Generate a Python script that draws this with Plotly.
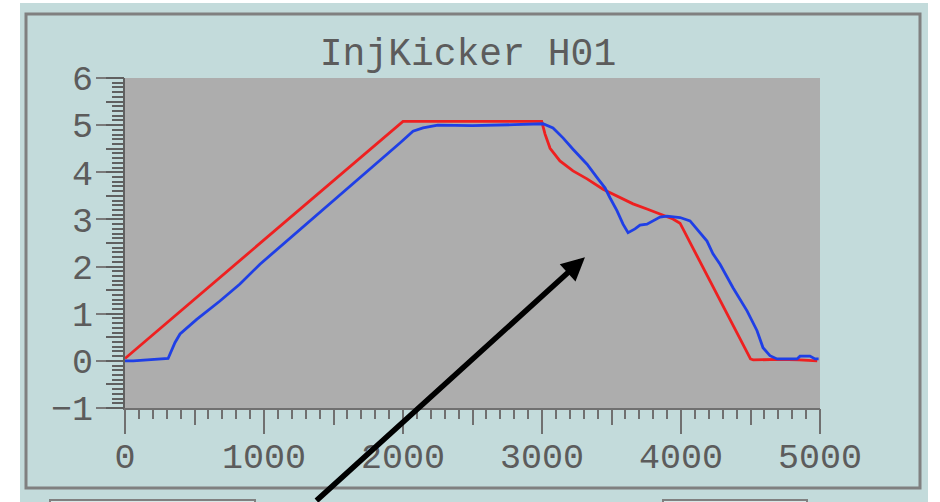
import plotly.graph_objects as go

# ---- data ----
red_x = [0, 2000, 2998, 3022, 3058, 3129, 3223, 3324, 3439, 3540, 3655, 3755, 3849, 3942,
         3993, 4500, 4520, 4700, 4850, 4980]
red_y = [0.05, 5.08, 5.08, 4.81, 4.51, 4.24, 4.03, 3.86, 3.64, 3.50, 3.33, 3.22, 3.11, 3.01,
         2.92, 0.04, 0.02, 0.03, 0.02, 0.0]

blue_x = [0, 60, 310, 360, 396, 516, 683, 827, 971, 1835, 1978, 2072, 2144, 2250, 2500,
          2800, 3007, 3079, 3151, 3223, 3324, 3403, 3453, 3489, 3540, 3583, 3619, 3669,
          3705, 3755, 3799, 3849, 3899, 3993, 4065, 4137, 4187, 4230, 4281, 4374, 4475,
          4547, 4590, 4640, 4691, 4835, 4856, 4928, 4964, 4990]
blue_y = [0.0, 0.0, 0.05, 0.39, 0.57, 0.88, 1.27, 1.63, 2.05, 4.24, 4.62, 4.87, 4.94, 5.0,
          4.99, 5.01, 5.03, 4.94, 4.73, 4.49, 4.17, 3.86, 3.67, 3.46, 3.18, 2.90, 2.72, 2.80,
          2.88, 2.90, 2.97, 3.05, 3.07, 3.04, 2.97, 2.72, 2.54, 2.27, 2.05, 1.55, 1.06,
          0.64, 0.28, 0.11, 0.04, 0.04, 0.10, 0.10, 0.04, 0.04]

title_text = "InjKicker H01"
x_range = [0, 5000]
y_range = [-1, 6]
arrow_head = (3309, 2.2)

# ---- styling ----
W, H = 940, 502
L, R, T, B = 125, 120, 78, 94
PANEL = "#c3dbdb"
PLOTBG = "#adadad"
TXT = "#5c5c5c"
FONT = "Liberation Mono"

def px_x(p):
    return (p - L) / (W - L - R)

def px_y(p):
    return (H - B - p) / (H - T - B)

fig = go.Figure()
fig.add_trace(go.Scatter(x=red_x, y=red_y, mode="lines",
                         line=dict(color="#ee2020", width=2.8), showlegend=False))
fig.add_trace(go.Scatter(x=blue_x, y=blue_y, mode="lines",
                         line=dict(color="#1f3fe6", width=2.8), showlegend=False))
# invisible trace to carry the mid-level tick axes
fig.add_trace(go.Scatter(x=[0], y=[0], xaxis="x2", yaxis="y2", mode="markers",
                         marker=dict(opacity=0), hoverinfo="skip", showlegend=False))

tickfont = dict(family=FONT, size=35, color=TXT)

fig.update_layout(
    width=W, height=H,
    margin=dict(l=L, r=R, t=T, b=B, pad=0),
    paper_bgcolor=PANEL,
    plot_bgcolor=PLOTBG,
    title=dict(text=title_text, x=px_x(471), xanchor="center", y=1 - 52 / H, yanchor="middle",
               font=dict(family=FONT, size=38, color=TXT)),
    xaxis=dict(range=x_range, dtick=1000, tick0=0, ticks="outside", ticklen=24, tickwidth=2,
               tickcolor="#707070", showgrid=False, zeroline=False, showline=True,
               linecolor="#707070", linewidth=2, tickfont=tickfont, ticklabelstandoff=-8,
               minor=dict(dtick=100, ticks="outside", ticklen=9, tickwidth=2, tickcolor="#707070",
                          showgrid=False)),
    yaxis=dict(range=y_range, dtick=1, tick0=0, ticks="outside", ticklen=27, tickwidth=2,
               tickcolor="#7a7a7a", showgrid=False, zeroline=False, showline=True,
               linecolor="#606060", linewidth=2, tickfont=tickfont, ticklabelstandoff=-4,
               minor=dict(dtick=0.1, ticks="outside", ticklen=11, tickwidth=2, tickcolor="#606060",
                          showgrid=False)),
    xaxis2=dict(range=x_range, overlaying="x", anchor="y2", side="bottom", dtick=500, tick0=0,
                ticks="outside", ticklen=16, tickwidth=2, tickcolor="#707070",
                showticklabels=False, showgrid=False, zeroline=False, showline=False),
    yaxis2=dict(range=y_range, overlaying="y", anchor="x2", side="left", dtick=0.5, tick0=0,
                ticks="outside", ticklen=18, tickwidth=2, tickcolor="#606060",
                showticklabels=False, showgrid=False, zeroline=False, showline=False),
)

shapes = [
    # white margins around the panel
    dict(type="rect", xref="paper", yref="paper", x0=px_x(0), x1=px_x(20), y0=px_y(0), y1=px_y(H),
         fillcolor="white", line=dict(width=0), layer="below"),
    dict(type="rect", xref="paper", yref="paper", x0=px_x(928), x1=px_x(W), y0=px_y(0), y1=px_y(H),
         fillcolor="white", line=dict(width=0), layer="below"),
    dict(type="rect", xref="paper", yref="paper", x0=px_x(0), x1=px_x(W), y0=px_y(0), y1=px_y(3),
         fillcolor="white", line=dict(width=0), layer="below"),
    # frame
    dict(type="rect", xref="paper", yref="paper", x0=px_x(26), x1=px_x(920), y0=px_y(14), y1=px_y(488),
         fillcolor="rgba(0,0,0,0)", line=dict(color="#808080", width=3), layer="below"),
    # partial buttons at bottom
    dict(type="rect", xref="paper", yref="paper", x0=px_x(50), x1=px_x(255), y0=px_y(500), y1=px_y(512),
         fillcolor="#d8e6e6", line=dict(color="#808080", width=2), layer="below"),
    dict(type="rect", xref="paper", yref="paper", x0=px_x(663), x1=px_x(807), y0=px_y(500), y1=px_y(512),
         fillcolor="#d8e6e6", line=dict(color="#808080", width=2), layer="below"),
]
fig.update_layout(shapes=shapes)

fig.add_annotation(x=arrow_head[0], y=arrow_head[1], xref="x", yref="y", text="",
                   showarrow=True, arrowhead=2, arrowsize=0.85, arrowwidth=5.5,
                   arrowcolor="black", ax=-270, ay=262, standoff=0)

fig.write_html("out.html")
